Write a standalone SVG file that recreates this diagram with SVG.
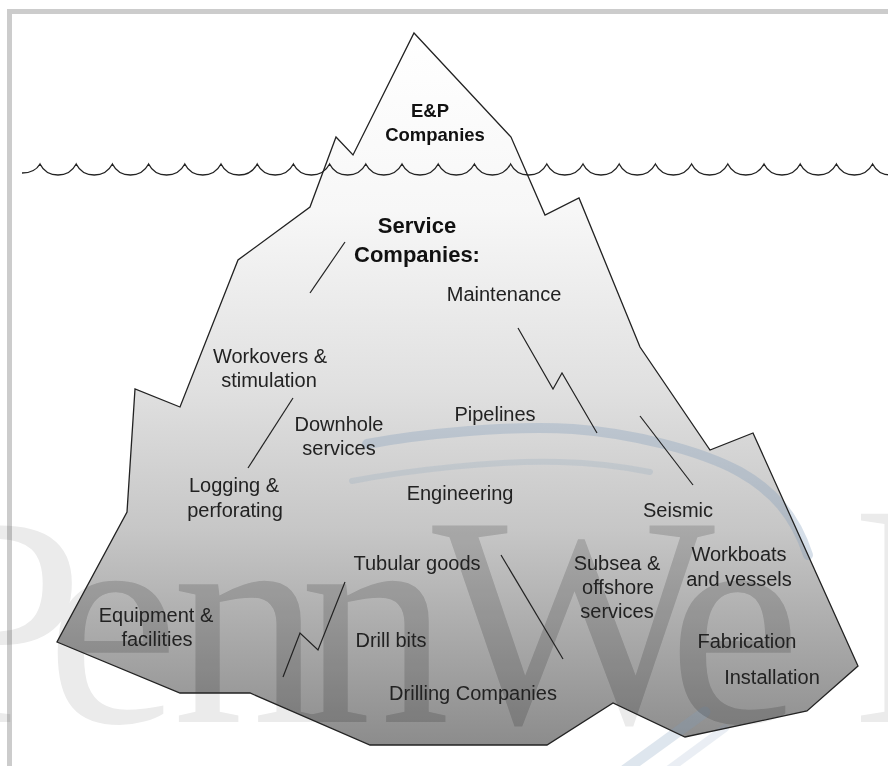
<svg xmlns="http://www.w3.org/2000/svg" width="888" height="766" viewBox="0 0 888 766">
  <defs>
    <linearGradient id="iceFill" gradientUnits="userSpaceOnUse" x1="0" y1="33" x2="0" y2="745">
      <stop offset="0" stop-color="#ffffff"/>
      <stop offset="0.25" stop-color="#f7f7f7"/>
      <stop offset="0.5" stop-color="#e0e0e0"/>
      <stop offset="0.7" stop-color="#c6c6c6"/>
      <stop offset="1" stop-color="#8c8c8c"/>
    </linearGradient>
    <clipPath id="iceClip">
      <polygon points="414,33 511,137 545,215 579,198 640,347 710,450 753,433 858,666 807,711 685,737 613,703 547,745 370,745 250,693 180,693 57,642 127,512 135,389 180,407 238,260 310,207 336,137 353,155"/>
    </clipPath>
  </defs>
  <style>
    .outline { fill: none; stroke: #222; stroke-width: 1.3; stroke-linejoin: miter; }
    .crack { fill: none; stroke: #222; stroke-width: 1.2; }
    .label { font-family: "Liberation Sans", Arial, sans-serif; font-size: 20px; fill: #222; text-anchor: middle; }
    .head { font-family: "Liberation Sans", Arial, sans-serif; font-weight: bold; fill: #111; text-anchor: middle; }
    .mark { font-family: "Liberation Serif", "Times New Roman", serif; font-size: 300px; fill: #000; }
    .swoosh { fill: none; stroke: #7f9cbb; stroke-linecap: round; }
  </style>

  <!-- page background and frame -->
  <rect x="0" y="0" width="888" height="766" fill="#ffffff"/>
  <rect id="frame" x="9.5" y="11.5" width="900" height="800" fill="none" stroke="#cccccc" stroke-width="5"/>

  <!-- iceberg body -->
  <g id="iceberg">
    <polygon points="414,33 511,137 545,215 579,198 640,347 710,450 753,433 858,666 807,711 685,737 613,703 547,745 370,745 250,693 180,693 57,642 127,512 135,389 180,407 238,260 310,207 336,137 353,155" fill="url(#iceFill)"/>
  </g>

  <!-- faint logo watermark -->
  <g id="watermark">
    <g class="swoosh" opacity="0.32">
      <path d="M367,444 C420,434 510,425 573,429 C630,433 700,450 740,472 C772,490 795,515 808,555" stroke-width="10"/>
      <path d="M352,481 C410,470 500,460 560,462 C600,463 630,468 650,472" stroke-width="6" opacity="0.6"/>
      <path d="M705,712 L625,770" stroke-width="11" opacity="0.8"/>
      <path d="M725,728 L668,770" stroke-width="8" opacity="0.5"/>
    </g>
    <text class="mark" opacity="0.08" x="-83 46 172 300 432 668 855 938" y="722">PennWell</text>
    <text class="mark" opacity="0.08" clip-path="url(#iceClip)" x="-83 46 172 300 432 668 855 938" y="722">PennWell</text>
  </g>

  <!-- iceberg outline -->
  <g id="iceberg-outline">
    <polygon class="outline" points="414,33 511,137 545,215 579,198 640,347 710,450 753,433 858,666 807,711 685,737 613,703 547,745 370,745 250,693 180,693 57,642 127,512 135,389 180,407 238,260 310,207 336,137 353,155"/>
  </g>

  <!-- sea surface -->
  <g id="waterline">
    <path class="outline" d="M22,173 C28,173 36,171 40,164
      c4,8 10,11 18,11 c8,0 14,-3 18.2,-11
      c4,8 10,11 18,11 c8,0 14,-3 18.2,-11
      c4,8 10,11 18,11 c8,0 14,-3 18.2,-11
      c4,8 10,11 18,11 c8,0 14,-3 18.2,-11
      c4,8 10,11 18,11 c8,0 14,-3 18.2,-11
      c4,8 10,11 18,11 c8,0 14,-3 18.2,-11
      c4,8 10,11 18,11 c8,0 14,-3 18.2,-11
      c4,8 10,11 18,11 c8,0 14,-3 18.2,-11
      c4,8 10,11 18,11 c8,0 14,-3 18.2,-11
      c4,8 10,11 18,11 c8,0 14,-3 18.2,-11
      c4,8 10,11 18,11 c8,0 14,-3 18.2,-11
      c4,8 10,11 18,11 c8,0 14,-3 18.2,-11
      c4,8 10,11 18,11 c8,0 14,-3 18.2,-11
      c4,8 10,11 18,11 c8,0 14,-3 18.2,-11
      c4,8 10,11 18,11 c8,0 14,-3 18.2,-11
      c4,8 10,11 18,11 c8,0 14,-3 18.2,-11
      c4,8 10,11 18,11 c8,0 14,-3 18.2,-11
      c4,8 10,11 18,11 c8,0 14,-3 18.2,-11
      c4,8 10,11 18,11 c8,0 14,-3 18.2,-11
      c4,8 10,11 18,11 c8,0 14,-3 18.2,-11
      c4,8 10,11 18,11 c8,0 14,-3 18.2,-11
      c4,8 10,11 18,11 c8,0 14,-3 18.2,-11
      c4,8 10,11 18,11 c8,0 14,-3 18.2,-11
      c4,8 10,11 18,11 c8,0 14,-3 18.2,-11"/>
  </g>

  <!-- crevices dividing the segments -->
  <g id="crevices">
    <polyline class="crack" points="345,242 310,293"/>
    <polyline class="crack" points="293,398 248,468"/>
    <polyline class="crack" points="518,328 553,389 562,373 597,433"/>
    <polyline class="crack" points="640,416 693,485"/>
    <polyline class="crack" points="345,582 318,650 300,633 283,677"/>
    <polyline class="crack" points="501,555 563,659"/>
  </g>

  <!-- labels -->
  <g id="ep-companies">
    <text class="head" font-size="18.5" x="430" y="117">E&amp;P</text>
    <text class="head" font-size="18.5" x="435" y="141">Companies</text>
  </g>
  <g id="service-companies">
    <text class="head" font-size="22" x="417" y="233">Service</text>
    <text class="head" font-size="22" x="417" y="262">Companies:</text>
  </g>
  <g id="maintenance"><text class="label" x="504" y="301">Maintenance</text></g>
  <g id="workovers">
    <text class="label" x="270" y="363">Workovers &amp;</text>
    <text class="label" x="269" y="387">stimulation</text>
  </g>
  <g id="pipelines"><text class="label" x="495" y="421">Pipelines</text></g>
  <g id="downhole">
    <text class="label" x="339" y="431">Downhole</text>
    <text class="label" x="339" y="455">services</text>
  </g>
  <g id="logging">
    <text class="label" x="234" y="492">Logging &amp;</text>
    <text class="label" x="235" y="517">perforating</text>
  </g>
  <g id="engineering"><text class="label" x="460" y="500">Engineering</text></g>
  <g id="seismic"><text class="label" x="678" y="517">Seismic</text></g>
  <g id="tubular-goods"><text class="label" x="417" y="570">Tubular goods</text></g>
  <g id="subsea">
    <text class="label" x="617" y="570">Subsea &amp;</text>
    <text class="label" x="618" y="594">offshore</text>
    <text class="label" x="617" y="618">services</text>
  </g>
  <g id="workboats">
    <text class="label" x="739" y="561">Workboats</text>
    <text class="label" x="739" y="586">and vessels</text>
  </g>
  <g id="equipment">
    <text class="label" x="156" y="622">Equipment &amp;</text>
    <text class="label" x="157" y="646">facilities</text>
  </g>
  <g id="drill-bits"><text class="label" x="391" y="647">Drill bits</text></g>
  <g id="fabrication"><text class="label" x="747" y="648">Fabrication</text></g>
  <g id="installation"><text class="label" x="772" y="684">Installation</text></g>
  <g id="drilling-companies"><text class="label" x="473" y="700">Drilling Companies</text></g>
</svg>
